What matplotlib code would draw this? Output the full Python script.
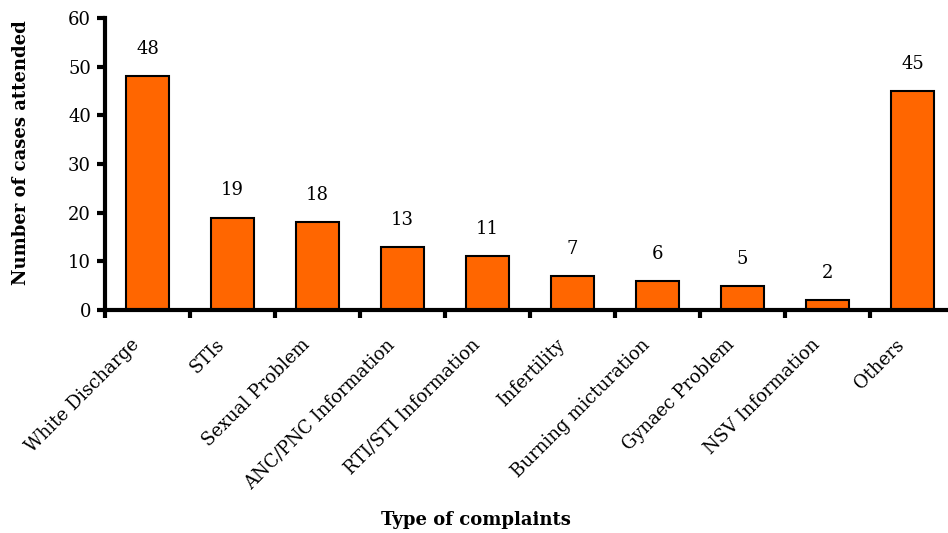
import matplotlib
matplotlib.use("Agg")
import matplotlib.pyplot as plt
import matplotlib.transforms as mtransforms
import numpy as np

categories = ["White Discharge", "STIs", "Sexual Problem", "ANC/PNC Information",
              "RTI/STI Information", "Infertility", "Burning micturation",
              "Gynaec Problem", "NSV Information", "Others"]
values = [48, 19, 18, 13, 11, 7, 6, 5, 2, 45]
yticks = [0, 10, 20, 30, 40, 50, 60]

plt.rcParams['font.family'] = ['DejaVu Serif']

fig = plt.figure(figsize=(9.48, 5.33), dpi=100)
W, H = 948, 533
left, right, top, bottom = 105, 955, 18, 310
ax = fig.add_axes([left / W, 1 - bottom / H, (right - left) / W, (bottom - top) / H])

x = np.arange(len(categories))
ax.bar(x, values, width=0.5, color='#FF6600', edgecolor='black', linewidth=1.5, zorder=2)
for xi, v in zip(x, values):
    ax.annotate(str(v), (xi, v), xytext=(0, 13), textcoords='offset points',
                ha='center', va='bottom', fontsize=13)

ax.set_xlim(-0.5, len(categories) - 0.5)
ax.set_ylim(0, 60)
ax.set_yticks(yticks)
ax.set_yticklabels([str(t) for t in yticks], fontsize=13)
ax.set_xticks(x)
ax.set_xticklabels(categories, rotation=45, ha='right', va='top', rotation_mode='anchor', fontsize=13)
ax.tick_params(axis='x', length=0, pad=20)
shift = mtransforms.ScaledTranslation(-17 / 100, 2 / 100, fig.dpi_scale_trans)
for lab in ax.get_xticklabels():
    lab.set_transform(lab.get_transform() + shift)
ax.set_xticks(np.arange(len(categories)) - 0.5, minor=True)
ax.tick_params(axis='x', which='minor', length=6, width=3, direction='out')
ax.tick_params(axis='y', length=6, width=3, direction='out', pad=4)

for s in ['top', 'right']:
    ax.spines[s].set_visible(False)
for s in ['left', 'bottom']:
    ax.spines[s].set_linewidth(3)

ax.set_ylabel("Number of cases attended", fontsize=13, fontweight='bold')
ax.set_xlabel("Type of complaints", fontsize=13, fontweight='bold', va='center')
ax.yaxis.set_label_coords(-0.088, 0.54)
ax.xaxis.set_label_coords((476 - left) / (right - left), -(520 - 310) / (bottom - top))

fig.savefig("out.png", dpi=100)
